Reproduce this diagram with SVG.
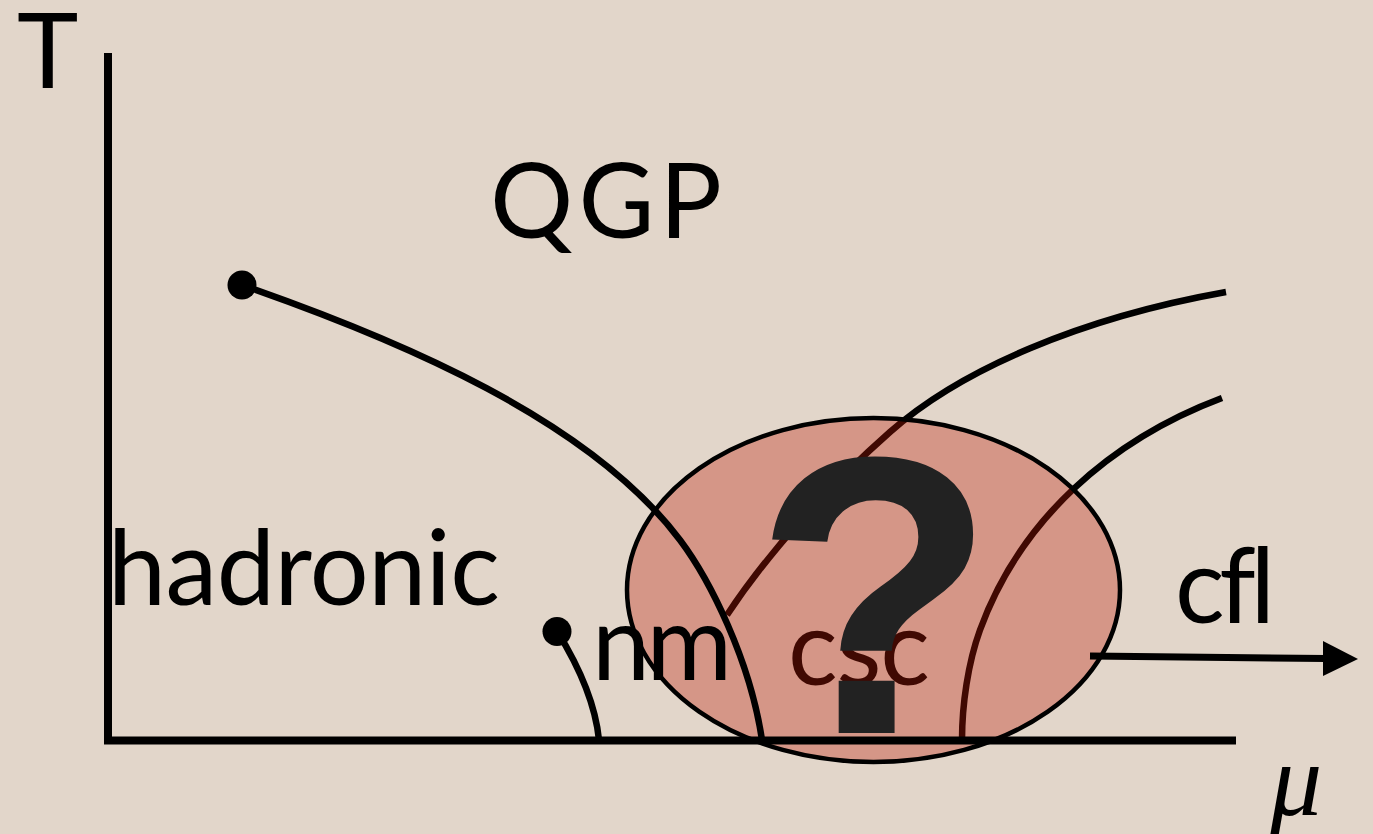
<svg xmlns="http://www.w3.org/2000/svg" width="1373" height="834" viewBox="0 0 1373 834">
<style>
.lbl{font-family:"Lato","Open Sans",sans-serif;font-size:104px;fill:#000;font-variant-ligatures:none}
.ln{fill:none;stroke:#000;stroke-width:6.5}
.ax{fill:none;stroke:#000;stroke-width:8}
</style>
<rect x="0" y="0" width="1373" height="834" fill="#E2D6CA"/>
<g id="connectors">
<path class="ln" d="M1226,292 C1080,318 960,370 890,432 C830,485 770,550 727,615"/>
<path class="ln" d="M1222,398 C1110,440 1020,520 980,630 C968,663 962,705 962,740"/>
</g>
<g id="csc"><text class="lbl" x="788" y="685" textLength="142">csc</text></g>
<g id="region">
<ellipse cx="873.5" cy="590" rx="246.5" ry="172" fill="#BC1905" fill-opacity="0.34" stroke="none"/>
<ellipse cx="873.5" cy="590" rx="246.5" ry="172" fill="none" stroke="#000" stroke-width="4.5"/>
</g>
<g id="boundaries">
<path class="ln" d="M242,285 C400,340 590,420 680,540 C710,580 750,660 762,740" stroke-width="7"/>
<circle cx="242" cy="285" r="14.5"/>
<path class="ln" d="M557,631 C575,660 595,700 599,740"/>
<circle cx="557" cy="631.5" r="14.5"/>
</g>
<g id="axes">
<line class="ax" x1="108" y1="53" x2="108" y2="744"/>
<line class="ax" x1="104" y1="740.5" x2="1236" y2="740.5"/>
</g>
<g id="arrow">
<line x1="1090" y1="656" x2="1326" y2="658.5" stroke="#000" stroke-width="7"/>
<polygon points="1323,641 1358,659 1323,676" fill="#000"/>
</g>
<g id="labels">
<text class="lbl" x="17" y="88" font-size="106">T</text>
<text class="lbl" x="490" y="238" font-size="110" textLength="232">QGP</text>
<text class="lbl" x="108" y="605" textLength="392">hadronic</text>
<text class="lbl" x="592" y="680" textLength="140">nm</text>
<text class="lbl" x="1175" y="623" font-size="100" textLength="100">cfl</text>
<text x="1270" y="815" font-family="'Liberation Serif',serif" font-style="italic" font-size="104">μ</text>
<text x="5" y="339" text-anchor="end" font-family="'Lato',sans-serif" font-size="80" fill="#16799A">n</text>
</g>
<g id="question"><text x="754" y="733" font-family="'Liberation Sans',Arial,sans-serif" font-weight="bold" font-size="396" fill="#222222">?</text></g>
</svg>
